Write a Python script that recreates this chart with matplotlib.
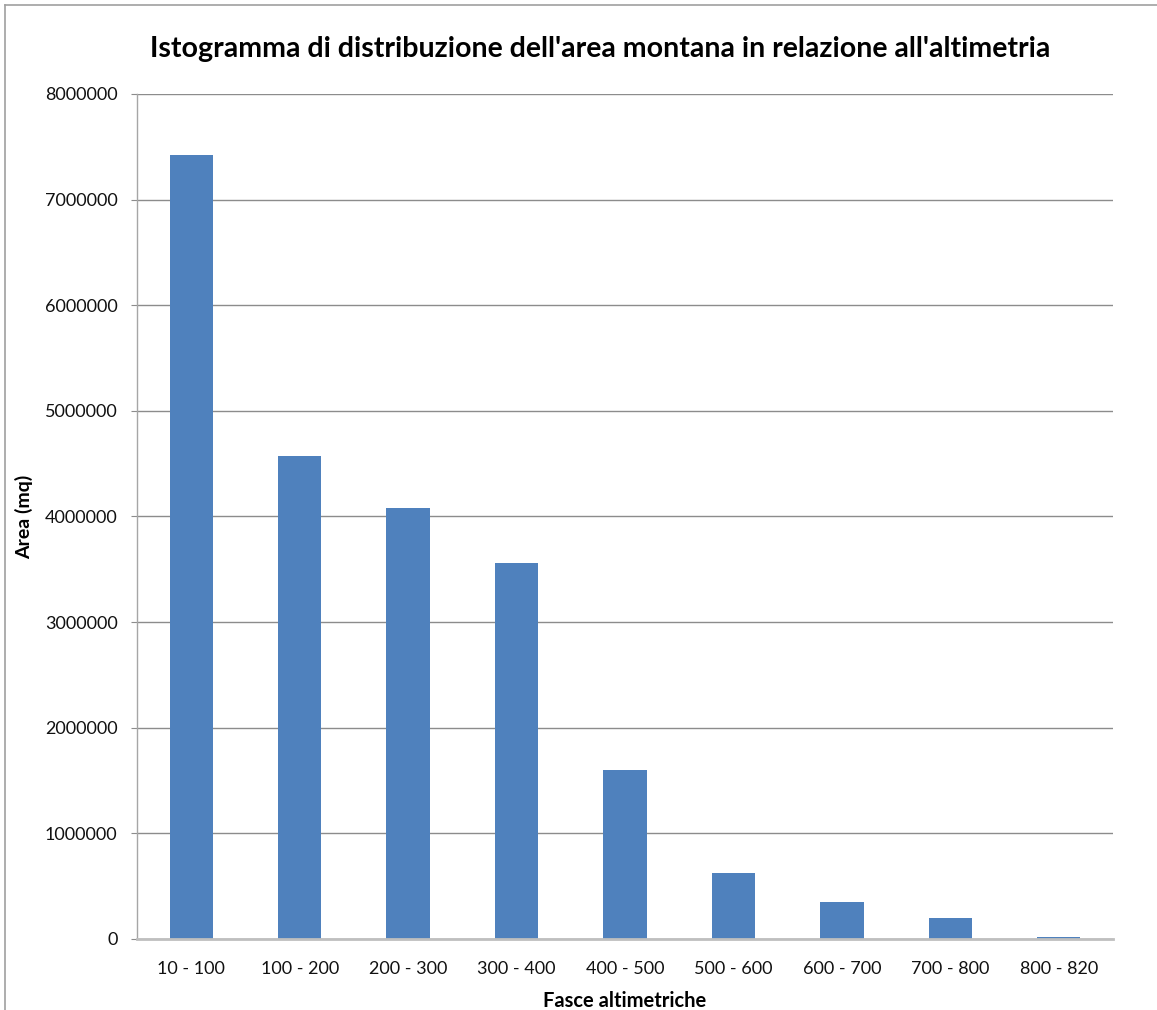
import matplotlib.pyplot as plt
from matplotlib.lines import Line2D
from matplotlib.ticker import MultipleLocator, StrMethodFormatter

FASCE = ["10 - 100", "100 - 200", "200 - 300", "300 - 400", "400 - 500",
         "500 - 600", "600 - 700", "700 - 800", "800 - 820"]
AREA_MQ = [7420000, 4570000, 4080000, 3560000, 1600000,
           625000, 350000, 200000, 20000]

BAR_COLOR = "#4F81BD"
GRID_COLOR = "#8C8C8C"

plt.rcParams["font.family"] = ["Lato", "DejaVu Sans"]


def main():
    fig = plt.figure(figsize=(11.57, 10.10), dpi=100)
    ax = fig.add_axes([0.1184, 0.0703, 0.8436, 0.8367])

    x = range(len(FASCE))
    ax.bar(x, AREA_MQ, width=0.4, color=BAR_COLOR, zorder=3)

    ax.set_xlim(-0.5, len(FASCE) - 0.5)
    ax.set_ylim(0, 8000000)
    ax.yaxis.set_major_locator(MultipleLocator(1000000))
    ax.yaxis.set_major_formatter(StrMethodFormatter("{x:.0f}"))
    ax.set_xticks(list(x))
    ax.set_xticklabels(FASCE)

    ax.grid(axis="y", color=GRID_COLOR, linewidth=1.0, zorder=0)
    for side in ["top", "right"]:
        ax.spines[side].set_visible(False)
    ax.spines["left"].set_color("#A6A6A6")
    ax.spines["left"].set_linewidth(1.0)
    ax.spines["bottom"].set_color("#BFBFBF")
    ax.spines["bottom"].set_linewidth(2.0)
    ax.spines["bottom"].set_zorder(4)

    ax.tick_params(axis="y", length=4, color=GRID_COLOR, pad=10,
                   labelsize=13, labelcolor="#111111")
    ax.tick_params(axis="x", length=0, pad=16, labelsize=13,
                   labelcolor="#111111")

    ax.set_ylabel("Area (mq)", fontsize=14, fontweight="bold")
    ax.yaxis.set_label_coords(-0.106, 0.5)
    ax.set_xlabel("Fasce altimetriche", fontsize=14.5, fontweight="bold")
    ax.xaxis.set_label_coords(0.5, -0.061)
    fig.text(0.519, 0.951,
             "Istogramma di distribuzione dell'area montana in relazione all'altimetria",
             ha="center", va="center", fontsize=20.5, fontweight="bold")

    # chart frame: only the top and left edges fall inside the image
    fig.add_artist(Line2D([0.0045, 1.0], [0.995, 0.995], color="#A0A0A0",
                          linewidth=1.2, transform=fig.transFigure))
    fig.add_artist(Line2D([0.0045, 0.0045], [0.0, 0.995], color="#A0A0A0",
                          linewidth=1.2, transform=fig.transFigure))

    fig.savefig("out.png", dpi=100)


if __name__ == "__main__":
    main()
